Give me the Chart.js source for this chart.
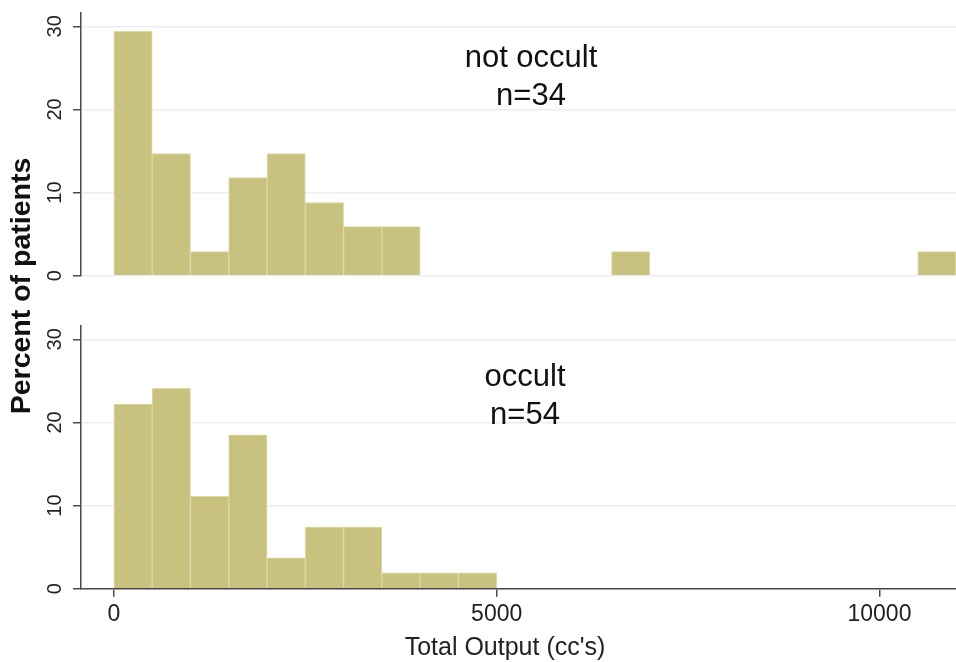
<!DOCTYPE html>
<html lang="en">
<head>
<meta charset="UTF-8">
<title>Total Output histogram</title>
<script src="https://cdn.jsdelivr.net/npm/chart.js@4.4.0/dist/chart.umd.min.js"></script>
<style>
  body { margin: 0; background: #fff; }
  #wrap { position: relative; width: 956px; height: 662px; background: #fff; }
  #wrap canvas { position: absolute; left: 0; top: 0; }
</style>
</head>
<body>
<div id="wrap">
  <canvas id="topChart" width="956" height="662"></canvas>
  <canvas id="bottomChart" width="956" height="662"></canvas>
</div>
<script>
// bin centres (bins are 500 cc wide) and percent of patients per bin
const notOccultBins = [250, 750, 1250, 1750, 2250, 2750, 3250, 3750, 6750, 10750];
const notOccultPct  = [29.4, 14.7, 2.9, 11.8, 14.7, 8.8, 5.9, 5.9, 2.9, 2.9];
const occultBins    = [250, 750, 1250, 1750, 2250, 2750, 3250, 3750, 4250, 4750];
const occultPct     = [22.2, 24.1, 11.1, 18.5, 3.7, 7.4, 7.4, 1.9, 1.9, 1.9];

const xTicks = [0, 5000, 10000];
const yTicks = [0, 10, 20, 30];

const topLabel = ["not occult", "n=34"];
const bottomLabel = ["occult", "n=54"];

const FONT = "'Liberation Sans', Arial, sans-serif";
const barFill = "#c9c27f";
const barEdge = "#ddd8a7";
const gridCol = "#e9eef4";
const axisCol = "#4a4a4a";

function toPoints(xs, ys) {
  return xs.map((x, i) => ({ x: x, y: ys[i] }));
}

function yScale() {
  return {
    min: 0,
    max: 31.6,
    afterBuildTicks: (s) => { s.ticks = yTicks.map(v => ({ value: v })); },
    afterFit: (s) => { s.width = 81; s.paddingTop = 0; s.paddingBottom = 0; },
    grid: { color: gridCol, tickColor: axisCol, tickLength: 8, lineWidth: 1.5 },
    border: { color: axisCol, width: 1.5 },
    ticks: {
      minRotation: 90, maxRotation: 90, crossAlign: "center",
      padding: 6, color: "#222", font: { family: FONT, size: 20 }
    }
  };
}

// draws the centred group text, plus the shared axis titles on the lower chart
const textPlugin = {
  id: "panelText",
  afterDraw(chart, args, opts) {
    const ctx = chart.ctx;
    ctx.save();
    ctx.fillStyle = "#111";
    ctx.textAlign = "center";
    ctx.textBaseline = "middle";
    ctx.font = "31px " + FONT;
    opts.lines.forEach((t, i) => ctx.fillText(t, opts.x, opts.y + i * 38));
    if (opts.xTitle) {
      ctx.fillStyle = "#222";
      ctx.font = "25px " + FONT;
      ctx.fillText(opts.xTitle, 505, 648);
    }
    if (opts.yTitle) {
      ctx.fillStyle = "#111";
      ctx.translate(22, 286);
      ctx.rotate(-Math.PI / 2);
      ctx.font = "bold 28.5px " + FONT;
      ctx.fillText(opts.yTitle, 0, 0);
    }
    ctx.restore();
  }
};

function dataset(xs, ys) {
  return {
    data: toPoints(xs, ys),
    backgroundColor: barFill,
    borderColor: barEdge,
    borderWidth: 1,
    barPercentage: 1,
    categoryPercentage: 1
  };
}

new Chart(document.getElementById("topChart"), {
  type: "bar",
  data: { datasets: [dataset(notOccultBins, notOccultPct)] },
  plugins: [textPlugin],
  options: {
    responsive: false,
    animation: false,
    layout: { padding: { left: 0, right: 0, top: 13, bottom: 386.3 } },
    plugins: {
      legend: { display: false },
      tooltip: { enabled: false },
      panelText: { lines: topLabel, x: 531, y: 58 }
    },
    scales: {
      x: { type: "linear", min: -430, max: 11000, offset: false, display: false },
      y: yScale()
    }
  }
});

new Chart(document.getElementById("bottomChart"), {
  type: "bar",
  data: { datasets: [dataset(occultBins, occultPct)] },
  plugins: [textPlugin],
  options: {
    responsive: false,
    animation: false,
    layout: { padding: { left: 0, right: 0, top: 326, bottom: 0 } },
    plugins: {
      legend: { display: false },
      tooltip: { enabled: false },
      panelText: {
        lines: bottomLabel, x: 525, y: 377,
        xTitle: "Total Output (cc's)", yTitle: "Percent of patients"
      }
    },
    scales: {
      x: {
        type: "linear", min: -430, max: 11000, offset: false,
        afterBuildTicks: (s) => { s.ticks = xTicks.map(v => ({ value: v })); },
        afterFit: (s) => { s.height = 73.3; s.paddingLeft = 0; s.paddingRight = 0; },
        grid: { offset: false, drawOnChartArea: false, tickColor: axisCol, tickLength: 8, lineWidth: 1.5 },
        border: { color: axisCol, width: 1.5 },
        ticks: {
          maxRotation: 0, autoSkip: false, padding: 4, color: "#222",
          font: { family: FONT, size: 23 },
          callback: (v) => String(v)
        }
      },
      y: yScale()
    }
  }
});
</script>
</body>
</html>
